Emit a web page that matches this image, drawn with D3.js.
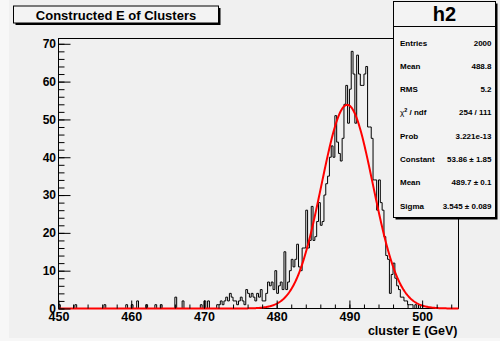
<!DOCTYPE html>
<html>
<head>
<meta charset="utf-8">
<script src="https://cdn.jsdelivr.net/npm/d3@7"></script>
<style>
  html, body { margin: 0; padding: 0; background: #f0f0f0; }
  svg { display: block; }
  text { font-family: "Liberation Sans", Arial, Helvetica, sans-serif; font-weight: bold; fill: #000; }
</style>
</head>
<body>
<svg id="chart" width="500" height="341"></svg>
<script>
// Histogram h2: cluster energy, 220 bins of 0.25 GeV from 450 to 505 GeV
const binLow = 450;
const binWidth = 0.25;
const counts = [
  // 450.0 - 454.75
  1, 0, 0, 0, 0, 0, 0, 0, 0, 1, 0, 0, 0, 0, 0, 0, 0, 0, 0, 0,
  // 455.0 - 459.75
  0, 0, 0, 0, 0, 1, 0, 0, 0, 0, 0, 0, 0, 0, 0, 0, 0, 1, 0, 0,
  // 460.0 - 464.75
  1, 0, 0, 2, 0, 0, 0, 0, 1, 0, 0, 0, 0, 1, 0, 0, 1, 0, 0, 0,
  // 465.0 - 469.75
  0, 0, 0, 0, 3, 0, 0, 0, 2, 0, 0, 0, 0, 0, 0, 0, 0, 0, 1, 0,
  // 470.0 - 474.75
  2, 0, 2, 0, 0, 0, 0, 1, 1, 2, 1, 2, 3, 2, 4, 3, 2, 2, 1, 2,
  // 475.0 - 479.75
  3, 2, 1, 5, 4, 3, 4, 3, 2, 4, 3, 5, 2, 2, 4, 7, 6, 7, 5, 10,
  // 480.0 - 484.75
  4, 6, 7, 5, 15, 5, 7, 10, 13, 11, 13, 17, 11, 10, 16, 16, 26, 16, 18, 27,
  // 485.0 - 489.75
  18, 19, 23, 28, 22, 23, 30, 33, 35, 40, 43, 40, 51, 44, 41, 39, 45, 54, 59, 49,
  // 490.0 - 494.75
  58, 68, 62, 49, 67, 62, 59, 59, 62, 64, 48, 48, 45, 34, 34, 26, 34, 28, 26, 19,
  // 495.0 - 499.75
  14, 13, 4, 9, 12, 8, 6, 5, 3, 3, 2, 2, 1, 1, 1, 0, 1, 0, 1, 0,
  // 500.0 - 504.75
  0, 0, 0, 0, 0, 0, 0, 0, 0, 0, 0, 0, 0, 0, 0, 0, 0, 0, 0, 0
];

// Gaussian fit result: Constant, Mean, Sigma
const fitParams = [53.86, 489.7, 3.545];

// Axis ticks and labels
const xMajorTicks = [450, 460, 470, 480, 490, 500];
const xMinorTicks = d3.range(450, 505.01, 2);
const yMajorTicks = [0, 10, 20, 30, 40, 50, 60, 70];
const yMinorTicks = d3.range(0, 71, 2);
const xTitle = "cluster E (GeV)";
const histTitle = "Constructed E of Clusters";

// Statistics box
const statsName = "h2";
const statsLabels = ["Entries", "Mean", "RMS", "\u03c7\u00b2 / ndf", "Prob", "Constant", "Mean", "Sigma"];
const statsValues = ["2000", "488.8", "5.2", "254 / 111", "3.221e-13", "53.86 \u00b1 1.85", "489.7 \u00b1 0.1", "3.545 \u00b1 0.089"];

const svg = d3.select("#chart");
const W = 500, H = 341;
const frame = { left: 58.5, right: 458.5, top: 38.5, bottom: 308.5 };
const xMax = binLow + binWidth * counts.length;
const yMax = 71.4;

const x = d3.scaleLinear().domain([binLow, xMax]).range([frame.left, frame.right]);
const y = d3.scaleLinear().domain([0, yMax]).range([frame.bottom, frame.top]);

// Canvas background with a light left/bottom rim
svg.append("rect").attr("x", 0).attr("y", 0).attr("width", W).attr("height", H).attr("fill", "#f7f7f7");
svg.append("rect").attr("x", 9).attr("y", 0).attr("width", W - 9).attr("height", H - 3).attr("fill", "#f0f0f0");

// Frame
svg.append("rect")
  .attr("x", frame.left).attr("y", frame.top)
  .attr("width", frame.right - frame.left).attr("height", frame.bottom - frame.top)
  .attr("fill", "#f0f0f0").attr("stroke", "#000").attr("stroke-width", 1);

// Histogram outline as a step line
const pts = [[binLow, 0]];
counts.forEach((c, i) => {
  const lo = binLow + i * binWidth;
  pts.push([lo, c], [lo + binWidth, c]);
});
pts.push([xMax, 0]);
svg.append("path")
  .datum(pts)
  .attr("fill", "none")
  .attr("stroke", "#000")
  .attr("stroke-width", 1)
  .attr("d", d3.line().x(d => x(d[0])).y(d => y(d[1])));

// Fitted Gaussian
const [A, mu, sigma] = fitParams;
const gaus = v => A * Math.exp(-0.5 * Math.pow((v - mu) / sigma, 2));
const fitPts = d3.range(binLow, xMax + 0.001, 0.1).map(v => [v, gaus(v)]);
svg.append("path")
  .datum(fitPts)
  .attr("fill", "none")
  .attr("stroke", "#ff0000")
  .attr("stroke-width", 2)
  .attr("d", d3.line().x(d => x(d[0])).y(d => y(d[1])));

// X axis: ticks point up into the frame
const gx = svg.append("g").attr("transform", `translate(0,${frame.bottom})`);
gx.call(d3.axisBottom(x).tickValues(xMinorTicks).tickSize(-4).tickFormat(""));
const gxMajor = svg.append("g").attr("transform", `translate(0,${frame.bottom})`);
gxMajor.call(d3.axisBottom(x).tickValues(xMajorTicks).tickSize(-8).tickPadding(13).tickFormat(d3.format("d")));
svg.selectAll("g .domain").remove();
gxMajor.selectAll("text").attr("font-size", 12.5).attr("font-family", null).attr("dy", "0.32em").attr("y", 8.5);

// Y axis: ticks point right into the frame
const gy = svg.append("g").attr("transform", `translate(${frame.left},0)`);
gy.call(d3.axisLeft(y).tickValues(yMinorTicks).tickSize(-6).tickFormat(""));
const gyMajor = svg.append("g").attr("transform", `translate(${frame.left},0)`);
gyMajor.call(d3.axisLeft(y).tickValues(yMajorTicks).tickSize(-12).tickPadding(2.5).tickFormat(d3.format("d")));
svg.selectAll("g .domain").remove();
gyMajor.selectAll("text").attr("font-size", 12).attr("font-family", null).attr("x", -2.5);
svg.selectAll(".tick line").attr("stroke", "#000").attr("stroke-width", 1);
svg.selectAll("g").attr("font-family", null).attr("font-size", null);

// Axis title
svg.append("text")
  .attr("x", frame.right - 1).attr("y", 335)
  .attr("text-anchor", "end")
  .attr("font-size", 12.5)
  .text(xTitle);

// Title box with shadow
svg.append("rect").attr("x", 15.5).attr("y", 8).attr("width", 205).attr("height", 17).attr("fill", "#000");
svg.append("rect").attr("x", 13.5).attr("y", 6).attr("width", 205).attr("height", 17)
  .attr("fill", "#f3f3f3").attr("stroke", "#000").attr("stroke-width", 1);
svg.append("text")
  .attr("x", 116).attr("y", 19.5)
  .attr("text-anchor", "middle")
  .attr("font-size", 13)
  .text(histTitle);

// Statistics box with shadow
const sb = { x: 393.5, y: 1.5, w: 102, h: 216 };
svg.append("rect").attr("x", sb.x + 2).attr("y", sb.y + 2).attr("width", sb.w).attr("height", sb.h).attr("fill", "#000");
svg.append("rect").attr("x", sb.x).attr("y", sb.y).attr("width", sb.w).attr("height", sb.h)
  .attr("fill", "#f3f3f3").attr("stroke", "#000").attr("stroke-width", 1);
svg.append("line")
  .attr("x1", sb.x).attr("x2", sb.x + sb.w)
  .attr("y1", 26.5).attr("y2", 26.5)
  .attr("stroke", "#000");
svg.append("text")
  .attr("x", sb.x + sb.w / 2).attr("y", 21)
  .attr("text-anchor", "middle")
  .attr("font-size", 20)
  .text(statsName);

const rowY = i => 45.5 + i * 23.3;
statsLabels.forEach((lab, i) => {
  const t = svg.append("text")
    .attr("x", 400).attr("y", rowY(i))
    .attr("font-size", 8);
  if (lab.indexOf("\u00b2") >= 0) {
    t.append("tspan").attr("font-weight", "normal").text("\u03c7");
    t.append("tspan").attr("font-size", 5.5).attr("dy", -3.5).text("2");
    t.append("tspan").attr("dy", 3.5).text(" / ndf");
  } else {
    t.text(lab);
  }
});
statsValues.forEach((val, i) => {
  svg.append("text")
    .attr("x", 491.5).attr("y", rowY(i))
    .attr("text-anchor", "end")
    .attr("font-size", 8)
    .text(val);
});
</script>
</body>
</html>
